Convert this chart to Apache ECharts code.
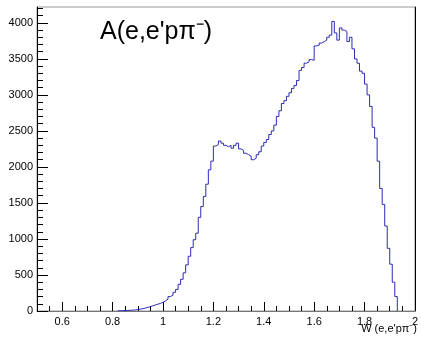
<!DOCTYPE html>
<html><head><meta charset="utf-8">
<script src="https://cdn.jsdelivr.net/npm/echarts@6/dist/echarts.min.js"></script>
<style>html,body{margin:0;padding:0;background:#fff}#c{width:421px;height:338px}</style>
</head><body><div id="c"></div>
<script>
// Histogram: bin lower edges (width 0.01) and counts
const binStart = 0.82;
const binWidth = 0.01;
const counts = [
  3, 5, 6, 8, 10, 12, 15, 20,            // 0.82-0.89
  25, 32, 40, 50, 60, 72, 85, 95, 105, 120, // 0.90-0.99
  140, 165, 200, 220, 260, 300, 370, 440, 530, 640, // 1.00-1.09
  760, 880, 990, 1080, 1300, 1450, 1590, 1760, 1960, 2080, // 1.10-1.19
  2290, 2310, 2360, 2330, 2300, 2280, 2300, 2260, 2300, 2330, // 1.20-1.29
  2250, 2230, 2190, 2170, 2150, 2100, 2120, 2170, 2210, 2290, // 1.30-1.39
  2340, 2380, 2450, 2500, 2580, 2700, 2780, 2880, 2920, 2980, // 1.40-1.49
  3030, 3090, 3130, 3200, 3340, 3380, 3440, 3460, 3490, 3480, // 1.50-1.59
  3680, 3690, 3720, 3740, 3760, 3800, 3830, 4020, 3860, 3760, // 1.60-1.69
  3930, 3900, 3880, 3740, 3800, 3640, 3500, 3440, 3330, 3300, // 1.70-1.79
  3150, 3000, 2840, 2550, 2400, 2080, 1700, 1480, 1180, 870,  // 1.80-1.89
  650, 400, 200                                                 // 1.90-1.92
];
const xMajorTicks = [0.6, 0.8, 1.0, 1.2, 1.4, 1.6, 1.8, 2.0];
const xMinorTicks = [0.55,0.65,0.7,0.75,0.85,0.9,0.95,1.05,1.1,1.15,1.25,1.3,1.35,1.45,1.5,1.55,1.65,1.7,1.75,1.85,1.9,1.95];
const yMajorTicks = [0, 500, 1000, 1500, 2000, 2500, 3000, 3500, 4000];
const yMinorTicks = [100,200,300,400,600,700,800,900,1100,1200,1300,1400,1600,1700,1800,1900,2100,2200,2300,2400,2600,2700,2800,2900,3100,3200,3300,3400,3600,3700,3800,3900,4100,4200];
const titleText = "A(e,e'p\u03c0\u207b)";
const xTitle = "W (e,e'p\u03c0\u207b)";

const pts = counts.map((v, i) => [+(binStart + i * binWidth).toFixed(3), v]);
pts.push([+(binStart + counts.length * binWidth).toFixed(3), counts[counts.length - 1]]);
pts.push([+(binStart + counts.length * binWidth).toFixed(3), 0]);

const font = 'Liberation Sans, Arial, sans-serif';
const chart = echarts.init(document.getElementById('c'), null, {renderer: 'canvas'});
const grid = {left: 37, right: 3, top: 7, bottom: 27, show: true, borderColor: '#999', borderWidth: 1};
chart.setOption({
  animation: false,
  grid: grid,
  xAxis: [
    {type: 'value', min: 0.5, max: 2, position: 'bottom',
     axisLine: {show: true, lineStyle: {color: '#777', width: 1}},
     axisTick: {show: true, inside: true, length: 9, customValues: xMajorTicks, lineStyle: {color: '#000'}},
     axisLabel: {show: true, customValues: xMajorTicks, color: '#000', fontSize: 11, fontFamily: font, margin: 5,
       formatter: v => String(+v.toFixed(2))},
     splitLine: {show: false}},
    {type: 'value', min: 0.5, max: 2, position: 'bottom',
     axisLine: {show: false},
     axisTick: {show: true, inside: true, length: 5, customValues: xMinorTicks, lineStyle: {color: '#000'}},
     axisLabel: {show: false}, splitLine: {show: false}}
  ],
  yAxis: [
    {type: 'value', min: 0, max: 4220, position: 'left',
     axisLine: {show: true, lineStyle: {color: '#000', width: 1}},
     axisTick: {show: true, inside: true, length: 11, customValues: yMajorTicks, lineStyle: {color: '#000'}},
     axisLabel: {show: true, customValues: yMajorTicks, color: '#000', fontSize: 11, fontFamily: font, margin: 4,
       formatter: v => String(v)},
     splitLine: {show: false}},
    {type: 'value', min: 0, max: 4220, position: 'left',
     axisLine: {show: false},
     axisTick: {show: true, inside: true, length: 6, customValues: yMinorTicks, lineStyle: {color: '#000'}},
     axisLabel: {show: false}, splitLine: {show: false}},
    {type: 'value', min: 0, max: 4220, position: 'right',
     axisLine: {show: true, lineStyle: {color: '#000', width: 1}},
     axisTick: {show: false}, axisLabel: {show: false}, splitLine: {show: false}}
  ],
  series: [{
    type: 'line', step: 'end', data: pts, showSymbol: false, symbol: 'none',
    lineStyle: {color: '#2b2bb8', width: 1}, xAxisIndex: 0, yAxisIndex: 0
  }],
  graphic: [
    {type: 'text', left: 100, top: 20, style: {text: titleText, fontSize: 25, fontFamily: font, fill: '#000'}},
    {type: 'text', right: 4, top: 323, style: {text: xTitle, fontSize: 11, fontFamily: font, fill: '#000'}}
  ]
});
</script></body></html>
